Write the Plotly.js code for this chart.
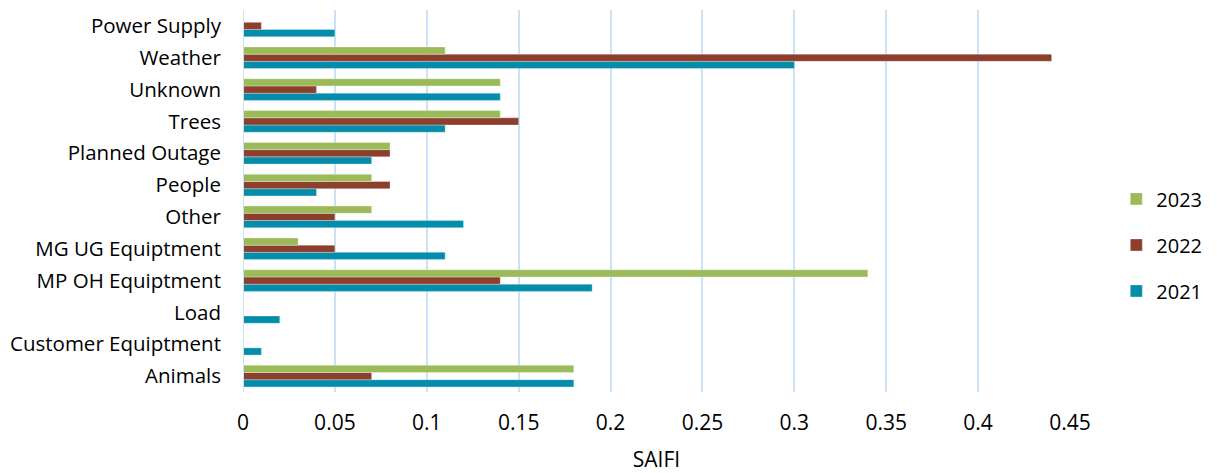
<!DOCTYPE html>
<html><head><meta charset="utf-8">
<script src="https://cdn.plot.ly/plotly-3.0.1.min.js"></script>
<style>html,body{margin:0;padding:0;background:#fff}</style>
</head><body>
<div id="chart" style="width:1217px;height:473px"></div>
<script>
const categories = ["Animals","Customer Equiptment","Load","MP OH Equiptment","MG UG Equiptment","Other","People","Planned Outage","Trees","Unknown","Weather","Power Supply"];
const values2021 = [0.18,0.01,0.02,0.19,0.11,0.12,0.04,0.07,0.11,0.14,0.30,0.05];
const values2022 = [0.07,0,0,0.14,0.05,0.05,0.08,0.08,0.15,0.04,0.44,0.01];
const values2023 = [0.18,0,0,0.34,0.03,0.07,0.07,0.08,0.14,0.14,0.11,0];
const tickVals = [0,0.05,0.1,0.15,0.2,0.25,0.3,0.35,0.4,0.45];
const tickText = ["0","0.05","0.1","0.15","0.2","0.25","0.3","0.35","0.4","0.45"];

const mk = (name, vals, color, rank) => ({
  type:'bar', orientation:'h', name:name, x:vals, y:categories,
  marker:{color:color, line:{color:'rgba(255,255,255,0.6)', width:0.5}},
  legendgroup:name, legendrank:rank, hoverinfo:'x+name'
});
const data = [
  mk('2021', values2021, '#038DAA', 3),
  mk('2022', values2022, '#8D3F2E', 2),
  mk('2023', values2023, '#9BBB59', 1)
];
const fam = '"Open Sans", sans-serif';
const catFont = {family:fam, size:20.5, color:'#000'};
const tickFont = {family:fam, size:21, color:'#000'};
const legFont = {family:fam, size:20, color:'#000'};
const layout = {
  width:1217, height:473,
  margin:{l:243, r:134, t:10, b:81},
  barmode:'group', bargap:0.32, bargroupgap:0,
  font:catFont,
  paper_bgcolor:'#fff', plot_bgcolor:'#fff',
  xaxis:{range:[0,0.45], tickvals:tickVals, ticktext:tickText, showgrid:true, gridcolor:'#C9E2F7', gridwidth:2,
    zeroline:false, showline:false, ticks:'', tickfont:tickFont, fixedrange:true, ticklabelstandoff:16,
    title:{text:'SAIFI', font:tickFont, standoff:21}},
  yaxis:{type:'category', showgrid:false, zeroline:false, showline:false, ticks:'', tickfont:catFont, ticklabelstandoff:21, automargin:false},
  shapes:[{type:'line', xref:'x', yref:'paper', x0:0, x1:0, y0:0, y1:1, line:{color:'#C9E2F7', width:2}}],
  legend:{x:1.056, y:0.385, yanchor:'middle', xanchor:'left', font:legFont, tracegroupgap:17, itemwidth:30, bgcolor:'rgba(0,0,0,0)'},
  showlegend:true
};
Plotly.newPlot('chart', data, layout, {displayModeBar:false, staticPlot:true});
</script>
</body></html>
